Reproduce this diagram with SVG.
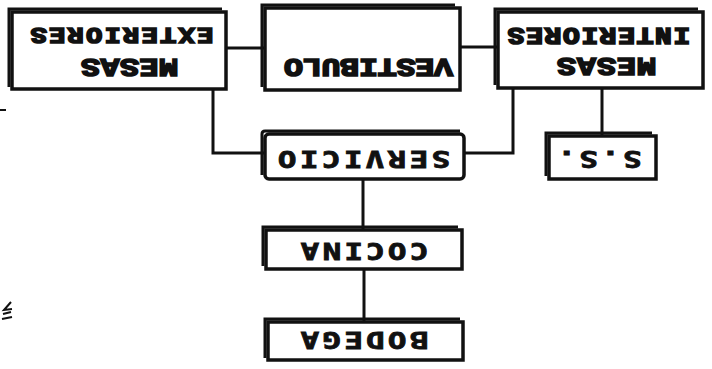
<svg xmlns="http://www.w3.org/2000/svg" width="712" height="369" viewBox="0 0 712 369">
<style>
.box{fill:#fff;stroke:#111;stroke-width:3.5}
.sh{fill:none;stroke:#111;stroke-width:3}
.ln{fill:none;stroke:#111;stroke-width:3}
.t1{font-family:"Liberation Mono",monospace;font-weight:bold;fill:#111;stroke:#111;stroke-width:1.7;text-anchor:middle}
.t2{font-family:"DejaVu Sans Mono",monospace;font-weight:bold;font-size:23px;fill:#111;stroke:#111;stroke-width:0.8;text-anchor:middle}
.mk{fill:none;stroke:#111;stroke-width:2}
</style>
<rect width="712" height="369" fill="#fff"/>
<g id="connectors">
<path class="ln" d="M227,48 H264"/>
<path class="ln" d="M460,47 H497"/>
<path class="ln" d="M213,90 V153 H265"/>
<path class="ln" d="M513,88 V153 H464"/>
<path class="ln" d="M602,88 V136"/>
<path class="ln" d="M363,180 V230"/>
<path class="ln" d="M364,270 V322"/>
</g>
<g id="mesas-exteriores">
<path class="sh" d="M9,87 V9 H222"/>
<rect class="box" x="12" y="12" width="214" height="77"/>
<text class="t1" font-size="22" transform="translate(122 35) rotate(180) scale(1.22 1)" x="-68.2 -53.1 -37.9 -22.7 -7.6 7.6 22.7 37.9 53.1 68.2" y="6.6">EXTERIORES</text>
<text class="t1" font-size="26" transform="translate(129.5 67) rotate(180) scale(1.22 1)" x="-32 -16 0 16 32" y="7.8">MESAS</text>
</g>
<g id="vestibulo">
<path class="sh" d="M262,87 V5 H455"/>
<rect class="box" x="265" y="8" width="195" height="82"/>
<text class="t1" font-size="26" transform="translate(368.5 66.5) rotate(180) scale(1.22 1)" x="-61.5 -46.1 -30.7 -15.4 0 15.4 30.7 46.1 61.5" y="7.8">VESTIBULO</text>
</g>
<g id="mesas-interiores">
<path class="sh" d="M495,85 V9 H698"/>
<rect class="box" x="498" y="12" width="205" height="76"/>
<text class="t1" font-size="23" transform="translate(599 35) rotate(180) scale(1.22 1)" x="-67.9 -52.8 -37.7 -22.6 -7.5 7.5 22.6 37.7 52.8 67.9" y="6.9">INTERIORES</text>
<text class="t1" font-size="26" transform="translate(606.5 66) rotate(180) scale(1.22 1)" x="-32.8 -16.4 0 16.4 32.8" y="7.8">MESAS</text>
</g>
<g id="ss">
<path class="sh" d="M546,176 V133 H652"/>
<rect class="box" x="549" y="136" width="107" height="43"/>
<text class="t2" transform="translate(599.5 159.5) rotate(180) scale(1.35 1)" x="-24.4 -8.1 8.1 24.4" y="8.4">S.S.</text>
</g>
<g id="servicio">
<path class="sh" d="M262,175 V134 Q262,131 265,131 H460"/>
<rect class="box" x="265" y="134" width="199" height="45" rx="4"/>
<text class="t2" transform="translate(364 159) rotate(180) scale(1.35 1)" x="-57 -40.7 -24.4 -8.1 8.1 24.4 40.7 57" y="8.4">SERVICIO</text>
</g>
<g id="cocina">
<path class="sh" d="M263,266 V227 H458"/>
<rect class="box" x="266" y="230" width="196" height="39"/>
<text class="t2" transform="translate(364.5 251) rotate(180) scale(1.35 1)" x="-40.4 -24.2 -8.1 8.1 24.2 40.4" y="8.4">COCINA</text>
</g>
<g id="bodega">
<path class="sh" d="M265,358 V319 H460"/>
<rect class="box" x="268" y="322" width="195" height="38"/>
<text class="t2" transform="translate(364.5 340) rotate(180) scale(1.35 1)" x="-40.4 -24.2 -8.1 8.1 24.2 40.4" y="8.4">BODEGA</text>
</g>
<path class="mk" d="M0,110 H6"/>
<path class="mk" d="M11,302 L4,310 L12,309 M3,314 L11,312 M2,319 L12,317"/>
</svg>
